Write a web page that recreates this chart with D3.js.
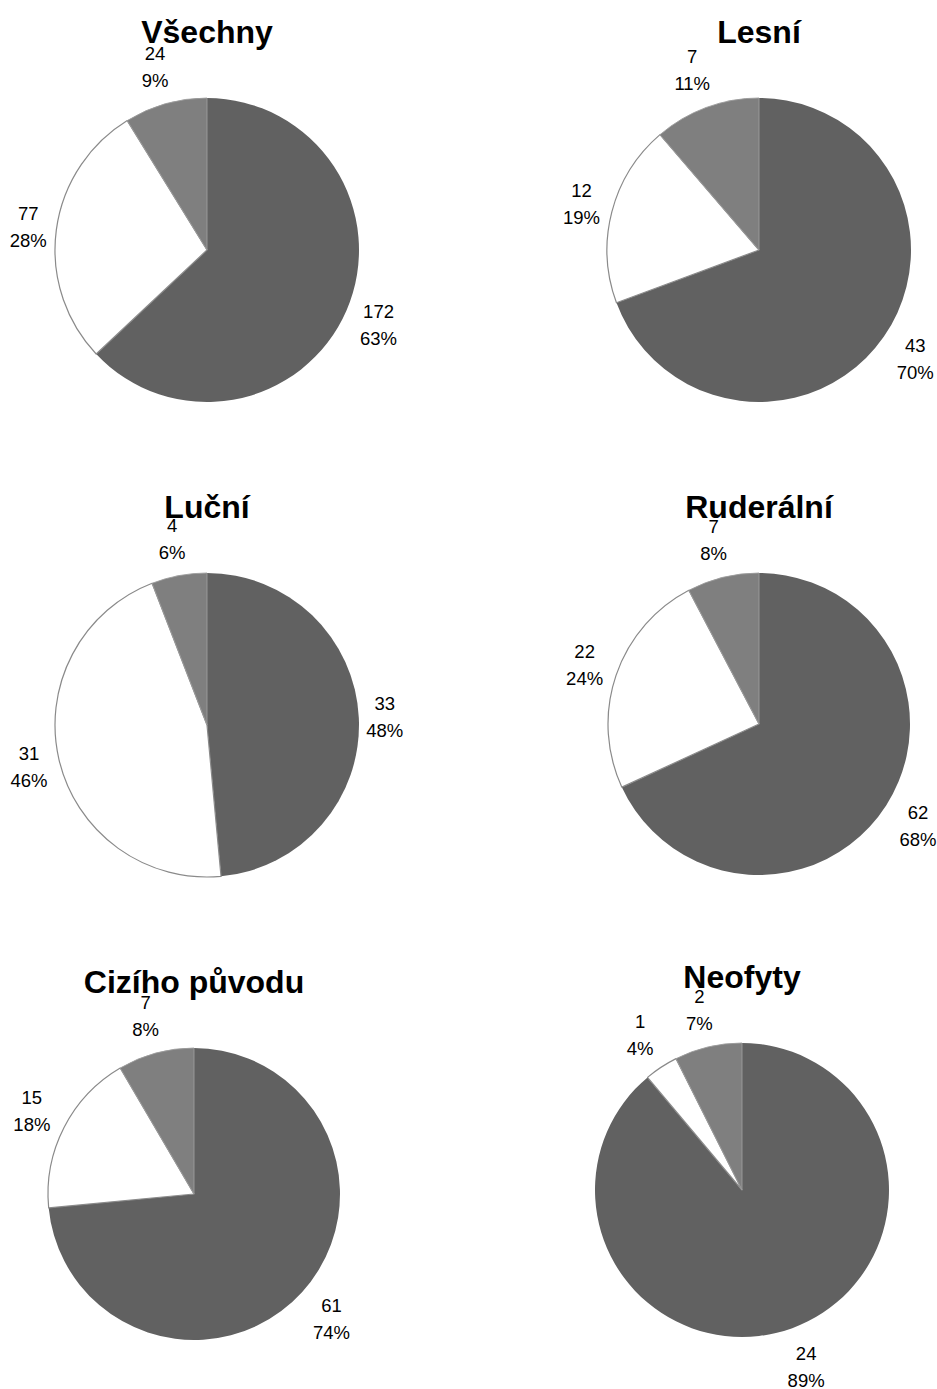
<!doctype html>
<html>
<head>
<meta charset="utf-8">
<script src="https://d3js.org/d3.v7.min.js"></script>
<style>
  body { margin: 0; background: #fff; }
  text { font-family: "Liberation Sans", Arial, sans-serif; fill: #000; }
</style>
</head>
<body>
<div id="chart"></div>
<script>
// data
var titles = ["Všechny", "Lesní", "Luční", "Ruderální", "Cizího původu", "Neofyty"];
var darkValues  = [172, 43, 33, 62, 61, 24];
var whiteValues = [77, 12, 31, 22, 15, 1];
var greyValues  = [24, 7, 4, 7, 7, 2];
var darkPct  = ["63%", "70%", "48%", "68%", "74%", "89%"];
var whitePct = ["28%", "19%", "46%", "24%", "18%", "4%"];
var greyPct  = ["9%", "11%", "6%", "8%", "8%", "7%"];

// where each little pie sits on the page
var layout = [
  {cx: 207, cy: 250, r: 152},
  {cx: 759, cy: 250, r: 152},
  {cx: 207, cy: 725, r: 152},
  {cx: 759, cy: 724, r: 151},
  {cx: 194, cy: 1194, r: 146},
  {cx: 742, cy: 1190, r: 147}
];

var fills   = ["#616161", "#ffffff", "#7f7f7f"];
var strokes = ["none", "#8a8a8a", "#9c9c9c"];

var width = 937, height = 1389;
var svg = d3.select("#chart").append("svg")
    .attr("width", width)
    .attr("height", height);

var pie = d3.pie().sort(null).value(function(d) { return d.value; });

titles.forEach(function(title, i) {
  var L = layout[i];
  var slices = [
    {value: darkValues[i],  pct: darkPct[i],  k: 0},
    {value: whiteValues[i], pct: whitePct[i], k: 1},
    {value: greyValues[i],  pct: greyPct[i],  k: 2}
  ];
  var arc = d3.arc().innerRadius(0).outerRadius(L.r);

  var g = svg.append("g")
      .attr("transform", "translate(" + L.cx + "," + L.cy + ")");

  g.selectAll("path")
    .data(pie(slices))
    .enter()
    .append("path")
      .attr("d", arc)
      .attr("fill", function(d) { return fills[d.data.k]; })
      .attr("stroke", function(d) { return strokes[d.data.k]; })
      .attr("stroke-width", function(d) { return d.data.k == 1 ? 1.2 : 0.9; })
      .attr("stroke-linejoin", "round");

  // title
  g.append("text")
    .attr("x", 0)
    .attr("y", -L.r - 55)
    .attr("text-anchor", "middle")
    .style("font-size", "32px")
    .style("font-weight", "bold")
    .text(title);

  // data labels, outside end
  var lab = g.selectAll("g.lab")
    .data(pie(slices))
    .enter()
    .append("g")
      .attr("class", "lab");

  lab.each(function(d) {
    var t = d3.select(this).append("text")
        .attr("text-anchor", "middle")
        .style("font-size", "18.5px");
    t.append("tspan").attr("x", 0).attr("y", -6.7).text(d.data.value);
    t.append("tspan").attr("x", 0).attr("y", 20.3).text(d.data.pct);
    var w = t.node().getBBox().width;
    var a = (d.startAngle + d.endAngle) / 2;
    var s = Math.sin(a), c = -Math.cos(a);
    var dist = L.r + 6 + Math.abs(s) * w / 2 + Math.abs(c) * 30;
    d3.select(this).attr("transform", "translate(" + (s * dist) + "," + (c * dist) + ")");
  });
});
</script>
</body>
</html>
